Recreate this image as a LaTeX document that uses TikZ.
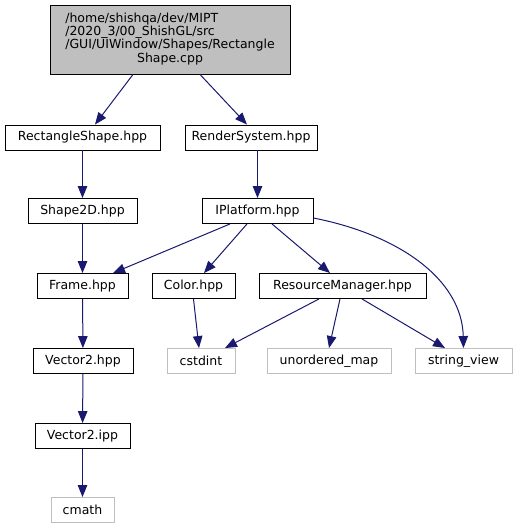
\documentclass[tikz,border=0pt]{standalone}
\usepackage{fontspec}
\setmainfont{DejaVu Sans}
\usetikzlibrary{arrows.meta}
\definecolor{edgeblue}{HTML}{191970}
\definecolor{extgray}{HTML}{BFBFBF}

\begin{document}
\begin{tikzpicture}[x=1pt, y=-1pt, font=\fontsize{12.5}{12.4}\selectfont,
    >={Triangle[length=12pt,width=9.5pt]},
    filebox/.style={draw=black, line width=0.9pt, inner sep=0pt, minimum height=25pt},
    extbox/.style={draw=extgray, line width=0.9pt, inner sep=0pt, minimum height=25pt},
    topbox/.style={draw=black, fill=extgray, line width=0.9pt, inner sep=0pt,
      minimum width=240pt, minimum height=69pt},
    edge/.style={->, draw=edgeblue, line width=1pt}]
    \useasboundingbox (0,0) rectangle (518,529);
    % main file
    \node[topbox] (top) at (170,39.5) {\begin{tabular}{@{}l@{}}
        /home/shishqa/dev/MIPT\\
        /2020\_3/00\_ShishGL/src\\
        /GUI/UIWindow/Shapes/Rectangle\\
        \multicolumn{1}{@{}c@{}}{Shape.cpp}
      \end{tabular}};
    % project headers
    \node[filebox, minimum width=155pt] (rect) at (82.5,137.5) {RectangleShape.hpp};
    \node[filebox, minimum width=132pt] (render) at (251,137.5) {RenderSystem.hpp};
    \node[filebox, minimum width=109pt] (shape) at (82.5,211) {Shape2D.hpp};
    \node[filebox, minimum width=111pt] (iplat) at (257.5,211) {IPlatform.hpp};
    \node[filebox, minimum width=91pt] (frame) at (82.5,286) {Frame.hpp};
    \node[filebox, minimum width=83pt] (color) at (193.5,286) {Color.hpp};
    \node[filebox, minimum width=167pt] (resmgr) at (342.5,286) {ResourceManager.hpp};
    \node[filebox, minimum width=100pt] (vech) at (83,361) {Vector2.hpp};
    \node[filebox, minimum width=95pt] (veci) at (82.5,436) {Vector2.ipp};
    % system headers
    \node[extbox, minimum width=68pt] (cstdint) at (201,361) {cstdint};
    \node[extbox, minimum width=124pt] (umap) at (329,361) {unordered\_map};
    \node[extbox, minimum width=97pt] (strview) at (463.5,361) {string\_view};
    \node[extbox, minimum width=63pt] (cmath) at (82.5,510) {cmath};
    % includes
    \draw[edge] ([xshift=-37pt]top.south) -- ([xshift=12.5pt]rect.north);
    \draw[edge] ([xshift=30pt]top.south) -- ([xshift=-4pt]render.north);
    \draw[edge] (rect) -- (shape);
    \draw[edge] (render.south -| iplat.north) -- (iplat.north);
    \draw[edge] (shape) -- (frame);
    \draw[edge] ([xshift=-27.5pt]iplat.south) -- ([xshift=30.5pt]frame.north);
    \draw[edge] ([xshift=-10.5pt]iplat.south) -- ([xshift=10.5pt]color.north);
    \draw[edge] ([xshift=14.5pt]iplat.south) -- ([xshift=-12.5pt]resmgr.north);
    \draw[edge] ([yshift=-7pt]iplat.east) .. controls (400,235) and (462,280) .. (strview.north);
    \draw[edge] (frame) -- (vech);
    \draw[edge] (color.south) -- ([xshift=-2pt]cstdint.north);
    \draw[edge] ([xshift=-23.5pt]resmgr.south) -- ([xshift=24pt]cstdint.north);
    \draw[edge] ([xshift=-2.5pt]resmgr.south) -- (umap.north);
    \draw[edge] ([xshift=19.5pt]resmgr.south) -- ([xshift=-18.5pt]strview.north);
    \draw[edge] (vech) -- (veci);
    \draw[edge] (veci) -- (cmath);
  \end{tikzpicture}
\end{document}
